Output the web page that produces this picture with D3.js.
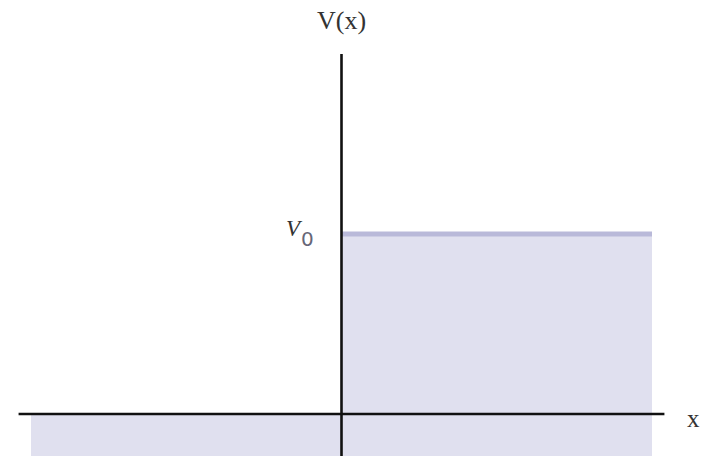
<!DOCTYPE html>
<html>
<head>
<meta charset="utf-8">
<script src="https://cdn.jsdelivr.net/npm/d3@7"></script>
<style>
  body { margin: 0; background: #fff; }
  svg { display: block; }
  .lbl { font-family: "Liberation Serif", "DejaVu Serif", serif; fill: #333; }
</style>
</head>
<body>
<svg id="chart" width="702" height="456"></svg>
<script>
// step potential: V = 0 for x < 0, V = V0 for x > 0
const stepX = [-1, 0, 0, 1];
const stepV = [0, 0, 1, 1];
const topX = [0, 1];
const topV = [1, 1];

const width = 702, height = 456;
const svg = d3.select("#chart");

const x = d3.scaleLinear().domain([-1, 1]).range([31, 652]);
const y = d3.scaleLinear().domain([0, 1]).range([414, 234]);

const pts = stepX.map((d, i) => ({ x: d, v: stepV[i] }));

const area = d3.area()
    .x(d => x(d.x))
    .y0(height + 5)
    .y1(d => y(d.v));

svg.append("path")
    .datum(pts)
    .attr("d", area)
    .attr("fill", "#e0e0ef");

const line = d3.line()
    .x(d => x(d.x))
    .y(d => y(d.v));

svg.append("path")
    .datum(topX.map((d, i) => ({ x: d, v: topV[i] })))
    .attr("d", line)
    .attr("fill", "none")
    .attr("stroke", "#b9b9d9")
    .attr("stroke-width", 5);

// axes
svg.append("line")
    .attr("x1", x(-1.04)).attr("x2", x(1.04))
    .attr("y1", y(0)).attr("y2", y(0))
    .attr("stroke", "#111")
    .attr("stroke-width", 2.6);

svg.append("line")
    .attr("x1", x(0)).attr("x2", x(0))
    .attr("y1", y(2)).attr("y2", height)
    .attr("stroke", "#111")
    .attr("stroke-width", 2.6);

svg.append("text")
    .attr("class", "lbl")
    .attr("x", x(0))
    .attr("y", 29)
    .attr("text-anchor", "middle")
    .style("font-size", "26px")
    .text("V(x)");

svg.append("text")
    .attr("class", "lbl")
    .attr("x", 687)
    .attr("y", 427)
    .attr("text-anchor", "start")
    .style("font-size", "25px")
    .text("x");

const v0 = svg.append("text")
    .attr("class", "lbl")
    .attr("x", 286)
    .attr("y", 236)
    .style("font-size", "23px");
v0.append("tspan").style("font-style", "italic").text("V");
v0.append("tspan")
    .attr("dx", 1)
    .attr("dy", 10)
    .style("font-family", "DejaVu Sans, sans-serif")
    .style("font-size", "20px")
    .attr("fill", "#667")
    .text("0");
</script>
</body>
</html>
